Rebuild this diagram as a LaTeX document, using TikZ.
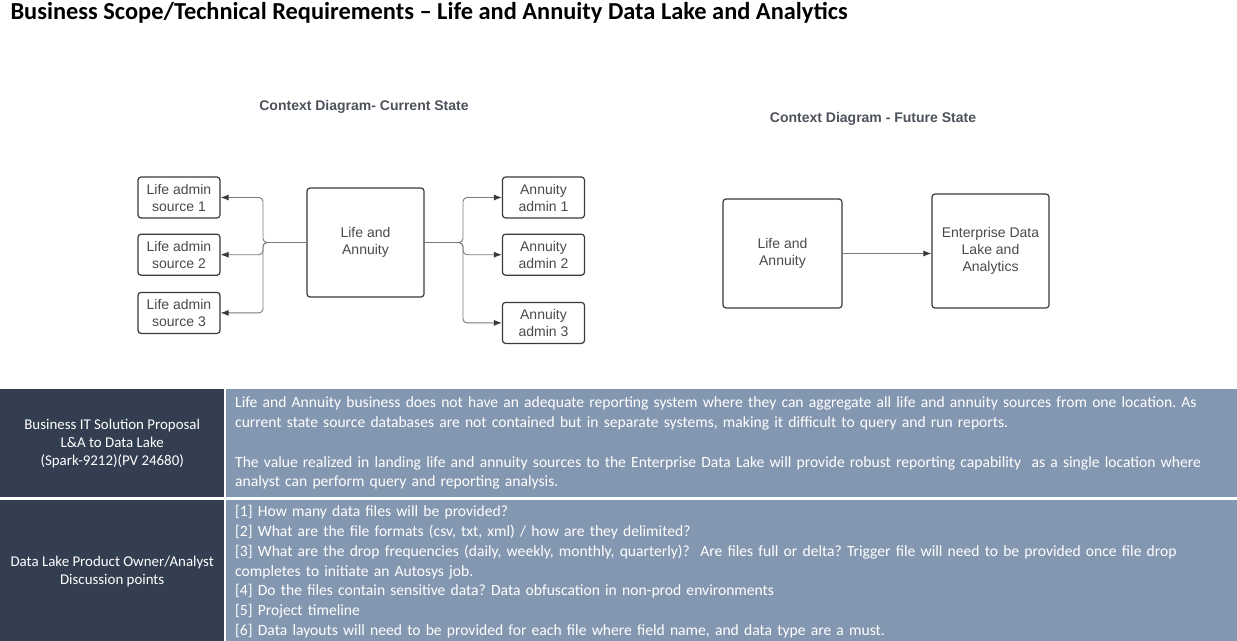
\documentclass[tikz,border=0pt]{standalone}
\usepackage{fontspec}
\setmainfont{Carlito}
\newfontfamily\diagfont{Liberation Sans}
\usetikzlibrary{arrows.meta, positioning}
\definecolor{celldark}{HTML}{333F50}
\definecolor{celllight}{HTML}{8497B0}
\definecolor{boxline}{HTML}{3A3A3A}
\definecolor{boxtext}{HTML}{4A4A4A}
\definecolor{wire}{HTML}{7A7A7A}
\definecolor{subtitle}{HTML}{4D525C}
\frenchspacing

\begin{document}
\begin{tikzpicture}[
    x=1pt, y=-1pt,
    node distance=15pt,
    box/.style={rectangle, draw=boxline, line width=1.2pt, rounded corners=3pt, align=center, text=boxtext, font=\diagfont\fontsize{14}{17}\selectfont, inner sep=0pt},
    smallbox/.style={box, minimum width=82pt, minimum height=41pt},
    arrow/.style={-{Latex[length=8pt, width=6pt, color=boxline]}, draw=wire, line width=0.9pt, rounded corners=4pt},
    diagtitle/.style={font=\diagfont\bfseries\fontsize{14}{17}\selectfont, text=subtitle},
    headcell/.style={rectangle, fill=celldark, text=white, align=center, font=\fontsize{14.9}{18}\selectfont, minimum width=224pt, inner sep=0pt},
    bodycell/.style={rectangle, fill=celllight, text=white, align=left, font=\fontsize{15.6}{19.8}\selectfont, minimum width=1011pt, text width=993pt, inner xsep=9pt, inner ysep=0pt}
]
    \useasboundingbox (0,0) rectangle (1237,640);
    \fill[white] (0,0) rectangle (1237,640);

    \node[anchor=west, font=\bfseries\fontsize{24.4}{28}\selectfont] (title) at (7,12.5) {Business Scope/Technical Requirements -- Life and Annuity Data Lake and Analytics};

    % current state
    \node[diagtitle] (curtitle) at (364,107) {Context Diagram- Current State};
    \node[box, minimum width=117pt, minimum height=109pt] (life) at (365.5,242.5) {Life and\\Annuity};
    \node[smallbox] (src1) at (179,197.5) {Life admin\\source 1};
    \node[smallbox, below=of src1] (src2) {Life admin\\source 2};
    \node[smallbox, below=16pt of src2] (src3) {Life admin\\source 3};
    \node[smallbox] (ann1) at (543.5,197.5) {Annuity\\admin 1};
    \node[smallbox, below=of ann1] (ann2) {Annuity\\admin 2};
    \node[smallbox, below=26pt of ann2] (ann3) {Annuity\\admin 3};
    \coordinate (ljoin) at (263,242.5);
    \coordinate (rjoin) at (463,242.5);

    \draw[arrow] (life.west) -- (ljoin) |- (src1.east);
    \draw[arrow] (life.west) -- (ljoin) |- (src2.east);
    \draw[arrow] (life.west) -- (ljoin) |- (src3.east);
    \draw[arrow] (life.east) -- (rjoin) |- (ann1.west);
    \draw[arrow] (life.east) -- (rjoin) |- (ann2.west);
    \draw[arrow] (life.east) -- (rjoin) |- (ann3.west);

    % future state
    \node[diagtitle] (futtitle) at (873,119) {Context Diagram - Future State};
    \node[box, minimum width=119pt, minimum height=109pt] (futlife) at (782.5,253.5) {Life and\\Annuity};
    \node[box, minimum width=117pt, minimum height=114pt] (lake) at (990.5,251) {Enterprise Data\\Lake and\\Analytics};
    \draw[arrow] (futlife.east) -- (futlife.east -| lake.west);

    % table
    \node[headcell, minimum height=108pt, anchor=north west] (prophd) at (0,389) {Business IT Solution Proposal\\L\&A to Data Lake\\(Spark-9212)(PV 24680)};
    \node[bodycell, minimum height=108pt, anchor=north west] (propbody) at (226,389) {Life and Annuity business does not have an adequate reporting system where they can aggregate all life and annuity sources from one location. As\\current state source databases are not contained but in separate systems, making it difficult to query and run reports.\\[19.8pt]The value realized in landing life and annuity sources to the Enterprise Data Lake will provide robust reporting capability~ as a single location where\\analyst can perform query and reporting analysis.};
    \node[headcell, minimum height=143pt, anchor=north west] (dischd) at (0,500) {Data Lake Product Owner/Analyst\\Discussion points};
    \node[bodycell, minimum height=143pt, anchor=north west] (discbody) at (226,500) {[1] How many data files will be provided?\\{}[2] What are the file formats (csv, txt, xml) / how are they delimited?\\{}[3] What are the drop frequencies (daily, weekly, monthly, quarterly)?~ Are files full or delta? Trigger file will need to be provided once file drop\\completes to initiate an Autosys job.\\{}[4] Do the files contain sensitive data? Data obfuscation in non-prod environments\\{}[5] Project timeline\\{}[6] Data layouts will need to be provided for each file where field name, and data type are a must.};
\end{tikzpicture}
\end{document}
